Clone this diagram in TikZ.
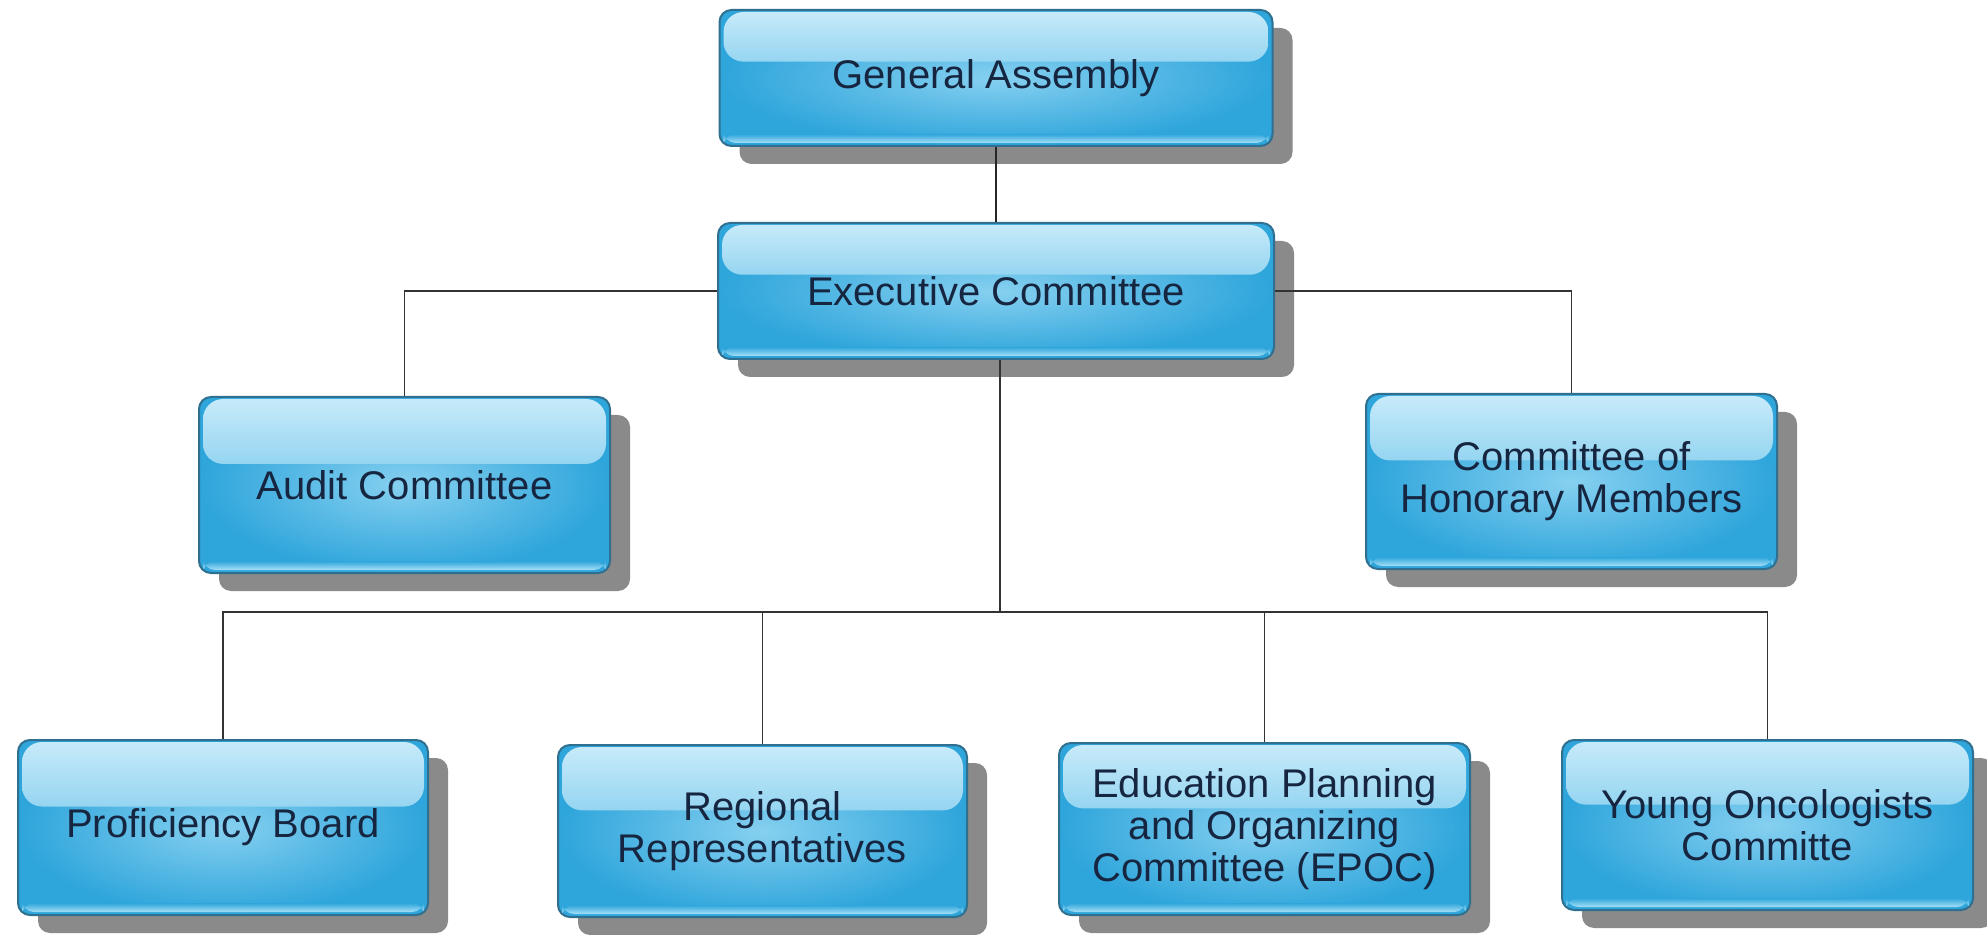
\documentclass[tikz,border=0pt]{standalone}
\usepackage{fontspec}
\setmainfont{Liberation Sans}
\usetikzlibrary{shadows,calc}
\definecolor{boxout}{HTML}{2EA5DB}
\definecolor{boxin}{HTML}{86D0F0}
\definecolor{boxline}{HTML}{2F6F8F}
\definecolor{hltop}{HTML}{C8EBFA}
\definecolor{hlbot}{HTML}{42B1E2}
\definecolor{btcol}{HTML}{A6E0F6}
\definecolor{shadowgray}{HTML}{8A8A8A}
\definecolor{textcol}{HTML}{172640}
\definecolor{linecol}{HTML}{333333}
\begin{document}
\begin{tikzpicture}[x=0.5pt,y=-0.5pt,
  orgbox/.style={rectangle, rounded corners=6pt, draw=boxline, line width=1pt,
    inner color=boxin, outer color=boxout,
    drop shadow={shadow xshift=10pt, shadow yshift=-9pt, fill=shadowgray, opacity=1},
    path picture={
      \shade[top color=hltop, bottom color=hlbot, rounded corners=10pt]
        ($(path picture bounding box.north west)+(2pt,-1pt)$) rectangle
        ($(path picture bounding box.north east)!0.38!(path picture bounding box.south east)+(-2pt,0pt)$);
      \shade[top color=boxout, bottom color=btcol]
        ($(path picture bounding box.south west)+(2pt,6pt)$) rectangle
        ($(path picture bounding box.south east)+(-2pt,1.5pt)$);
    },
    text=textcol, font=\fontsize{20}{21}\selectfont, align=center, inner sep=0pt},
  conn/.style={draw=linecol, line width=0.75pt}]
\path[use as bounding box, fill=white] (0,0) rectangle (1987,935);

\node[orgbox, minimum width=276.5pt, minimum height=68pt] (ga) at (996,78) {General Assembly};
\node[orgbox, minimum width=278pt, minimum height=68pt] (ex) at (996,291) {Executive Committee};
\node[orgbox, minimum width=205.5pt, minimum height=88pt] (audit) at (404.5,485) {Audit Committee};
\node[orgbox, minimum width=205.5pt, minimum height=87.5pt] (hon) at (1571.5,481.5) {Committee of\\Honorary Members};
\node[orgbox, minimum width=205pt, minimum height=87.5pt] (prof) at (223,827.5) {Proficiency Board};
\node[orgbox, minimum width=204.5pt, minimum height=86pt] (reg) at (762.5,831) {Regional\\Representatives};
\node[orgbox, minimum width=205.5pt, minimum height=86pt] (epoc) at (1264.5,829) {Education Planning\\and Organizing\\Committee (EPOC)};
\node[orgbox, minimum width=205.5pt, minimum height=85pt] (young) at (1767.5,825) {Young Oncologists\\Committe};

\coordinate (bus) at (1000,612);

\draw[conn, line width=1.2pt, draw=black!85] (ga.south) -- (ex.north);
\draw[conn] (ex.west) -| (audit.north);
\draw[conn] (ex.east) -| (hon.north);
\draw[conn] (ex.south -| bus) -- (bus);
\draw[conn] (bus) -| (prof.north);
\draw[conn] (bus) -| (reg.north);
\draw[conn] (bus) -| (epoc.north);
\draw[conn] (bus) -| (young.north);
\end{tikzpicture}
\end{document}
